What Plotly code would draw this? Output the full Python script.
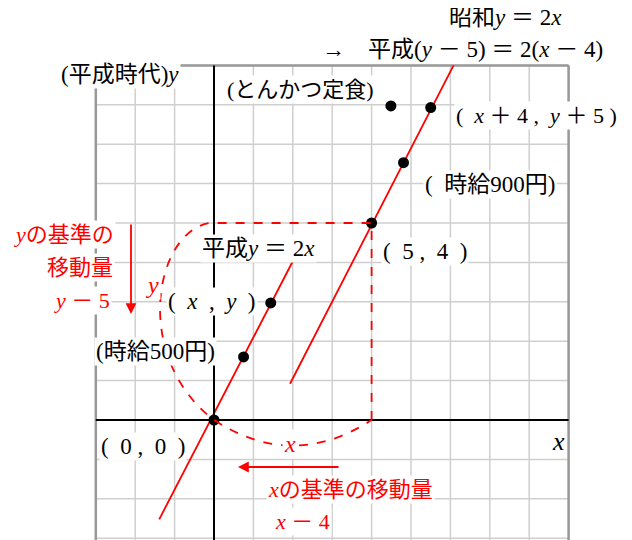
import plotly.graph_objects as go

# grid units: one square = 1
grid_vals = list(range(-3, 10))
dots_x = [0, 0.75, 1.44, 4, 4.81, 5.5, 4.49]
dots_y = [0, 1.6, 2.97, 5, 6.53, 7.93, 7.97]
line1_x = [-1.39, 2.0]
line1_y = [-2.52, 4.03]
line2_x = [1.93, 6.08]
line2_y = [0.92, 9.0]

U = 39.4
OX, OY = 214, 419
SHX, SHY = 8, 7  # page offset of the plot


def px(x, y):
    return (x - OX) / U, (OY - y) / U


JP = "Noto Sans CJK JP"
RED = "#ff0000"

fig = go.Figure()
shapes = []
for g in grid_vals:
    shapes.append(dict(type="line", x0=g, x1=g, y0=-3.3, y1=9, line=dict(color="#cfcfcf", width=1.5), layer="below"))
    shapes.append(dict(type="line", x0=-3, x1=9, y0=g, y1=g, line=dict(color="#cfcfcf", width=1.5), layer="below"))
for g in (-3, 9):
    shapes.append(dict(type="line", x0=g, x1=g, y0=-3.3, y1=9, line=dict(color="#999", width=2.5), layer="below"))
shapes.append(dict(type="line", x0=-3, x1=9, y0=9, y1=9, line=dict(color="#999", width=2.5), layer="below"))
shapes.append(dict(type="line", x0=0, x1=0, y0=-3.3, y1=9, line=dict(color="black", width=2)))
shapes.append(dict(type="line", x0=-3, x1=9, y0=0, y1=0, line=dict(color="black", width=2)))
shapes.append(dict(type="path",
                   path="M 4,0 L 4,5 L -0.1,5 C -1.5,4.8 -2.1,1.6 0,0 Q 2,-1.3 4,0",
                   line=dict(color=RED, width=1.8, dash="dash")))
fig.update_layout(shapes=shapes)

fig.add_trace(go.Scatter(x=line1_x, y=line1_y, mode="lines", line=dict(color=RED, width=1.8)))
fig.add_trace(go.Scatter(x=line2_x, y=line2_y, mode="lines", line=dict(color=RED, width=1.8)))
fig.add_trace(go.Scatter(x=dots_x, y=dots_y, mode="markers", marker=dict(color="black", size=11)))

labels = [
    # text, px x center, px y center, color, size
    ("昭和<i>y</i> ＝ 2<i>x</i>", 505, 16, "black", 23),
    ("→　平成(<i>y</i> － 5) ＝ 2(<i>x</i> － 4)", 462, 48, "black", 23),
    ("(平成時代)<i>y</i>", 120, 73, "black", 23),
    ("(とんかつ定食)", 300, 88, "black", 22),
    ("(  <i>x</i> ＋ 4 ,  <i>y</i> ＋ 5 )", 536, 114, "black", 22),
    ("(  時給900円)", 490, 183, "black", 23),
    ("<i>y</i>の基準の", 64, 233, RED, 22),
    ("移動量", 80, 266, RED, 22),
    ("<i>y</i> － 5", 82, 299, RED, 22),
    ("<i>y</i>", 152, 284, RED, 24),
    ("平成<i>y</i> ＝ 2<i>x</i>", 258, 247, "black", 23),
    ("(  5 ,  4  )", 425, 250, "black", 23),
    ("(  <i>x</i>  ,  <i>y</i>  )", 212, 300, "black", 23),
    ("(時給500円)", 155, 350, "black", 23),
    ("(  0 ,  0  )", 143, 445, "black", 23),
    ("<i>x</i>", 290, 443, RED, 24),
    ("<i>x</i>", 558, 440, "black", 26),
    ("<i>x</i>の基準の移動量", 350, 488, RED, 22),
    ("<i>x</i> － 4", 302, 520, RED, 22),
]
for t, x, y, c, s in labels:
    ax, ay = px(x, y)
    fig.add_annotation(x=ax, y=ay, text=t, showarrow=False, bgcolor="white",
                       font=dict(family="Liberation Serif, " + JP, size=s, color=c))

# red arrows
for (x0, y0, x1, y1) in [(131, 222, 131, 313), (340, 466, 238, 466)]:
    a0, b0 = px(x0, y0)
    a1, b1 = px(x1, y1)
    fig.add_annotation(x=a1, y=b1, ax=a0, ay=b0, xref="x", yref="y", axref="x", ayref="y",
                       text="", showarrow=True, arrowhead=2, arrowsize=1.2, arrowwidth=1.8,
                       arrowcolor=RED)

fig.update_layout(
    width=632, height=540, margin=dict(l=0, r=0, t=0, b=0),
    plot_bgcolor="white", paper_bgcolor="white", showlegend=False,
    xaxis=dict(range=[-(OX - SHX) / U, (632 - OX + SHX) / U], visible=False, fixedrange=True),
    yaxis=dict(range=[-(540 - OY + SHY) / U, (OY - SHY) / U], visible=False, fixedrange=True),
)

fig.write_html("out.html")
